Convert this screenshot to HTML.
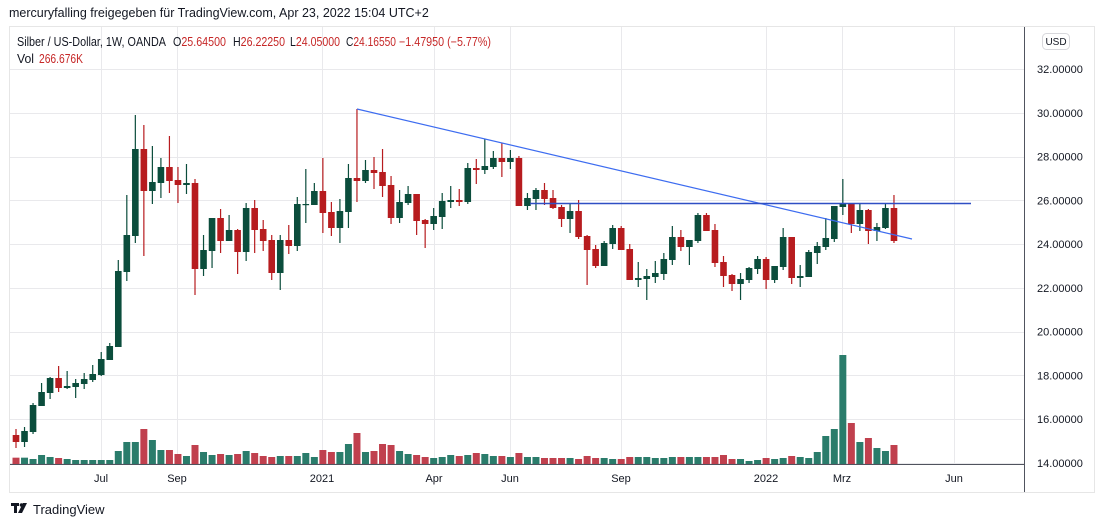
<!DOCTYPE html>
<html><head><meta charset="utf-8"><style>
html,body{margin:0;padding:0;background:#fff;width:1100px;height:527px;overflow:hidden}
svg{display:block;font-family:"Liberation Sans",sans-serif}
</style></head><body>
<svg id="s" width="1100" height="527" viewBox="0 0 1100 527" xmlns="http://www.w3.org/2000/svg">
<rect x="0" y="0" width="1100" height="527" fill="#fff"/>
<text x="9" y="17" font-size="12.5" fill="#131722">mercuryfalling freigegeben für TradingView.com, Apr 23, 2022 15:04 UTC+2</text>
<rect x="9.5" y="26.5" width="1085" height="466" fill="none" stroke="#e6e6e6"/>
<g id="grid" stroke="#e9e9ec" stroke-width="1"></g>
<g id="vol"></g>
<g id="c"></g>
<line x1="357" y1="109" x2="912" y2="239" stroke="#3d6cf0" stroke-width="1.2"/>
<line x1="530" y1="203.5" x2="971" y2="203.5" stroke="#2f4fc4" stroke-width="1.4"/>
<line x1="1024.5" y1="27" x2="1024.5" y2="492" stroke="#50535e"/>
<line x1="10" y1="464.5" x2="1024" y2="464.5" stroke="#50535e"/>
<rect x="1042.5" y="33.5" width="27" height="16" rx="4" fill="#fff" stroke="#d8d8dc"/>
<text x="1056" y="45" font-size="10" fill="#131722" text-anchor="middle">USD</text>
<g id="pl" font-size="11" fill="#131722"></g>
<g font-size="11" fill="#131722" text-anchor="middle">
<text x="101" y="482">Jul</text><text x="177" y="482">Sep</text><text x="322" y="482">2021</text><text x="434" y="482">Apr</text><text x="510" y="482">Jun</text><text x="621" y="482">Sep</text><text x="766" y="482">2022</text><text x="842" y="482">Mrz</text><text x="954" y="482">Jun</text>
</g>
<g font-size="12.5" fill="#131722">
<text x="17" y="46" textLength="149" lengthAdjust="spacingAndGlyphs">Silber / US-Dollar, 1W, OANDA</text>
<text x="173" y="46" textLength="53" lengthAdjust="spacingAndGlyphs">O<tspan fill="#c62828">25.64500</tspan></text>
<text x="233" y="46" textLength="52" lengthAdjust="spacingAndGlyphs">H<tspan fill="#c62828">26.22250</tspan></text>
<text x="290" y="46" textLength="50" lengthAdjust="spacingAndGlyphs">L<tspan fill="#c62828">24.05000</tspan></text>
<text x="346" y="46" textLength="50" lengthAdjust="spacingAndGlyphs">C<tspan fill="#c62828">24.16550</tspan></text>
<text x="399" y="46" fill="#c62828" textLength="92" lengthAdjust="spacingAndGlyphs">−1.47950 (−5.77%)</text>
<text x="17" y="63" textLength="17" lengthAdjust="spacingAndGlyphs">Vol</text>
<text x="39" y="63" fill="#c62828" textLength="44" lengthAdjust="spacingAndGlyphs">266.676K</text>
</g>
<g fill="#131722"><rect x="11" y="503" width="8" height="3"/><rect x="14" y="503" width="3" height="10"/><circle cx="21.5" cy="505" r="1.8"/><polygon points="23,503 27,503 22,513 18,513"/></g>
<text x="33" y="514" font-size="13" fill="#131722">TradingView</text>
</svg>
<script>
const NS="http://www.w3.org/2000/svg";
function el(p,t,a){const e=document.createElementNS(NS,t);for(const k in a)e.setAttribute(k,a[k]);p.appendChild(e);return e;}
const grid=document.getElementById('grid'),pl=document.getElementById('pl');
[101,177,322,434,510,621,766,842,954].forEach(x=>el(grid,'line',{x1:x+.5,y1:27,x2:x+.5,y2:464}));
for(let k=0;k<10;k++){const y=69+k*43.75;el(grid,'line',{x1:10,y1:Math.round(y)+.5,x2:1024,y2:Math.round(y)+.5});
 const t=el(pl,'text',{x:1037,y:y+4});t.textContent=(32-2*k).toFixed(5);}
const C=`r 435 442 429 448|g 431 442 427 447|g 405 432 403 434|g 392 406 383 406|g 378 393 377 399|r 378 388 366 392|g 386 388 371 389|g 383 387 379 398|g 379 384 373 389|g 374 380 365 382|g 359 375 352 376|g 346 360 343 360|g 271 347 260 347|g 235 272 195 281|g 149 236 115 243|r 149 191 125 256|g 182 191 146 204|g 167 183 158 198|r 167 181 136 193|r 180 185 167 203|g 183 185 164 194|r 183 269 179 295|g 250 269 235 276|g 218 251 218 268|r 218 241 209 253|g 230 241 215 241|r 230 252 229 274|g 208 252 203 261|r 208 230 200 253|r 229 241 220 251|r 240 273 235 280|g 240 273 235 290|r 240 246 225 254|g 204 246 197 251|g 204 205 169 223|g 191 205 183 205|r 191 213 158 233|r 212 228 202 236|g 211 228 199 243|g 178 212 164 228|r 178 181 109 202|g 170 181 160 183|r 170 173 157 189|r 172 186 149 197|r 185 218 176 224|g 202 218 190 223|g 194 203 186 205|r 194 221 194 235|r 220 224 219 248|g 216 224 208 230|g 201 217 193 229|g 200 202 186 208|r 200 202 189 206|g 168 202 163 204|r 168 170 159 184|g 166 170 139 174|g 158 167 151 169|r 158 162 143 177|g 158 162 150 169|r 158 206 156 206|g 198 206 193 210|g 190 199 188 210|r 190 199 183 205|r 198 208 190 209|r 207 219 205 227|g 211 219 204 233|r 211 237 200 239|r 236 250 235 285|r 249 266 245 268|g 243 266 241 266|g 228 244 225 249|r 228 250 226 250|r 249 280 244 280|g 278 280 262 287|g 276 279 269 300|g 273 277 261 283|g 259 274 253 280|g 237 260 226 265|r 237 247 230 251|g 240 247 240 265|g 215 241 213 243|r 215 231 213 231|r 230 263 224 267|r 262 276 256 287|r 275 284 274 291|g 279 284 273 300|g 268 280 267 283|g 259 269 256 274|r 259 280 257 289|g 266 280 266 283|g 237 267 228 270|r 237 278 237 284|g 276 278 265 287|g 252 277 250 277|g 246 253 242 264|g 238 247 218 250|g 206 239 206 242|g 204 207 179 215|r 203 224 203 233|g 210 224 203 231|r 210 231 209 244|g 227 231 223 241|g 208 228 204 229|r 208 241 195 243`.split('|');
const V=[1073,1073,1077,1065,1071,1074,1077,1080,1080,1080,1080,1080,1053,1026,1026,987,1020,1050,1050,1062,1068,1035,1056,1065,1062,1065,1062,1053,1059,1068,1071,1068,1068,1068,1059,1071,1050,1056,1056,1032,999,1056,1053,1032,1035,1053,1062,1065,1071,1074,1071,1065,1068,1065,1059,1062,1068,1068,1071,1059,1071,1071,1074,1074,1074,1074,1077,1068,1074,1074,1077,1077,1071,1071,1071,1074,1074,1071,1071,1071,1071,1071,1071,1065,1077,1077,1083,1080,1074,1077,1074,1068,1071,1074,1056,1008,987,765,969,1026,1014,1044,1053,1035];
const cg=document.getElementById('c'),vg=document.getElementById('vol');
C.forEach((s,i)=>{const [c,bt,bb,wt,wb]=s.split(' ');const x=16+i*8.524;
 const col=c=='g'?'#0b4d3c':'#b71c1f';
 el(cg,'rect',{x:x-0.6,y:+wt,width:1.2,height:Math.max(1,wb-wt),fill:col});
 el(cg,'rect',{x:x-3.3,y:+bt,width:6.6,height:Math.max(1.2,bb-bt),fill:col});
 const vy=100+V[i]/3;
 el(vg,'rect',{x:x-3.5,y:vy,width:7,height:464-vy,fill:c=='g'?'#2a7c6b':'#c0404e'});
});
</script>
</body></html>
